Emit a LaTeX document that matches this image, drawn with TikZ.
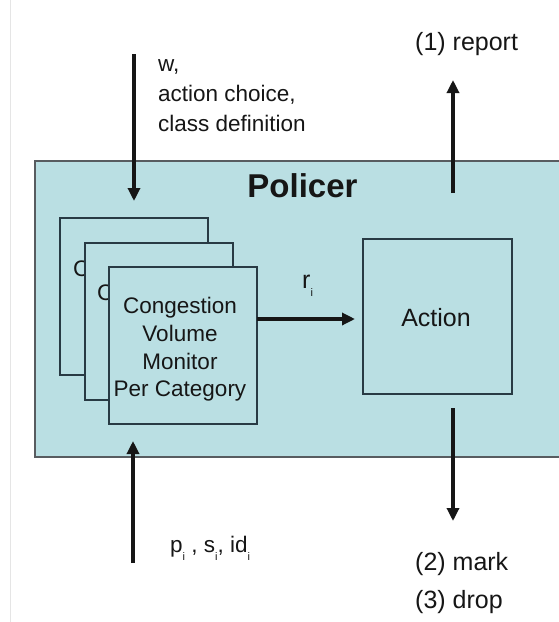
\documentclass[tikz,border=0pt]{standalone}
\usepackage{fontspec}
\setmainfont{Liberation Sans}
\usetikzlibrary{arrows.meta,calc}

\definecolor{panelfill}{RGB}{186,223,227}
\definecolor{panelline}{RGB}{88,92,96}
\definecolor{boxline}{RGB}{40,58,68}
\definecolor{inkcol}{RGB}{22,22,22}

\tikzset{
  panel/.style={draw=panelline, line width=1.4pt, fill=panelfill},
  monbox/.style={draw=boxline, line width=1.2pt, fill=panelfill,
    minimum width=148pt, minimum height=157pt, inner sep=0pt, outer sep=0pt},
  actbox/.style={draw=boxline, line width=1.2pt, fill=panelfill,
    minimum width=149pt, minimum height=155pt, inner sep=0pt, outer sep=0pt},
  flow/.style={draw=inkcol, line width=3.2pt,
    -{Triangle[length=13pt,width=12pt]}},
  bodytxt/.style={text=inkcol, inner sep=0pt, font=\fontsize{22.5}{27.7}\selectfont},
  labeltxt/.style={text=inkcol, inner sep=0pt, font=\fontsize{25}{30}\selectfont},
}
\newcommand{\lowsub}[1]{\raisebox{-8pt}{\fontsize{11}{11}\selectfont #1}}

\begin{document}
\begin{tikzpicture}[x=1pt,y=-1pt]
\useasboundingbox (0,0) rectangle (559,622);
\clip (0,0) rectangle (559,622);
\fill[white] (0,0) rectangle (559,622);
\draw[black!10, line width=0.8pt] (10,0) -- (10,622);

% Policer panel, running past the right edge
\node[panel, anchor=north west, minimum width=540pt, minimum height=296pt,
  inner sep=0pt, outer sep=0pt] (policer) at (35,161) {};
\node[text=inkcol, inner sep=0pt, anchor=base,
  font=\fontsize{33}{36}\selectfont\bfseries] (title) at (302.5,197) {Policer};

% stacked monitors, back to front; each one hides most of the one behind
\node[monbox, anchor=north west] (mon1) at (60,218) {};
\node[bodytxt, anchor=west] (mon1txt) at (73,269) {C};
\node[monbox, anchor=north west] (mon2) at (85,243) {};
\node[bodytxt, anchor=west] (mon2txt) at (97,293) {C};
\node[monbox, anchor=north west] (mon3) at (109,267) {};
\node[bodytxt, align=center] (mon3txt) at ($(mon3.center)+(-3,4)$)
  {Congestion\\Volume\\Monitor\\Per Category};

% action block
\node[actbox, anchor=north west] (action) at (363,239) {};
\node[labeltxt, anchor=base] (acttxt) at (436,326) {Action};

% monitor -> action
\coordinate (rsrc) at (257,319);
\coordinate (rdst) at (363,319);
\draw[flow, shorten >=8pt] (rsrc) -- (rdst);
\node[labeltxt, anchor=base west] (rlabel) at (302,288) {r\lowsub{i}};

% inputs from above
\coordinate (cfgsrc) at (134,54);
\coordinate (cfgdst) at (134,201);
\draw[flow] (cfgsrc) -- (cfgdst);
\node[bodytxt, anchor=base west] (cfg1) at (158,71.7) {w,};
\node[bodytxt, anchor=base west] (cfg2) at (158,101.7) {action choice,};
\node[bodytxt, anchor=base west] (cfg3) at (158,131.7) {class definition};

% inputs from below
\coordinate (pktsrc) at (133,563);
\coordinate (pktdst) at (133,441);
\draw[flow] (pktsrc) -- (pktdst);
\node[bodytxt, anchor=base west] (pkt) at (170,552)
  {p\lowsub{i} , s\lowsub{i}, id\lowsub{i}};

% outputs
\coordinate (repsrc) at (453,193);
\coordinate (repdst) at (453,80);
\draw[flow] (repsrc) -- (repdst);
\node[labeltxt, anchor=base west] (report) at (415,50) {(1) report};

\coordinate (outsrc) at (453,408);
\coordinate (outdst) at (453,521);
\draw[flow] (outsrc) -- (outdst);
\node[labeltxt, anchor=base west] (mark) at (415,570) {(2) mark};
\node[labeltxt, anchor=base west] (drop) at (415,608) {(3) drop};
\end{tikzpicture}
\end{document}
